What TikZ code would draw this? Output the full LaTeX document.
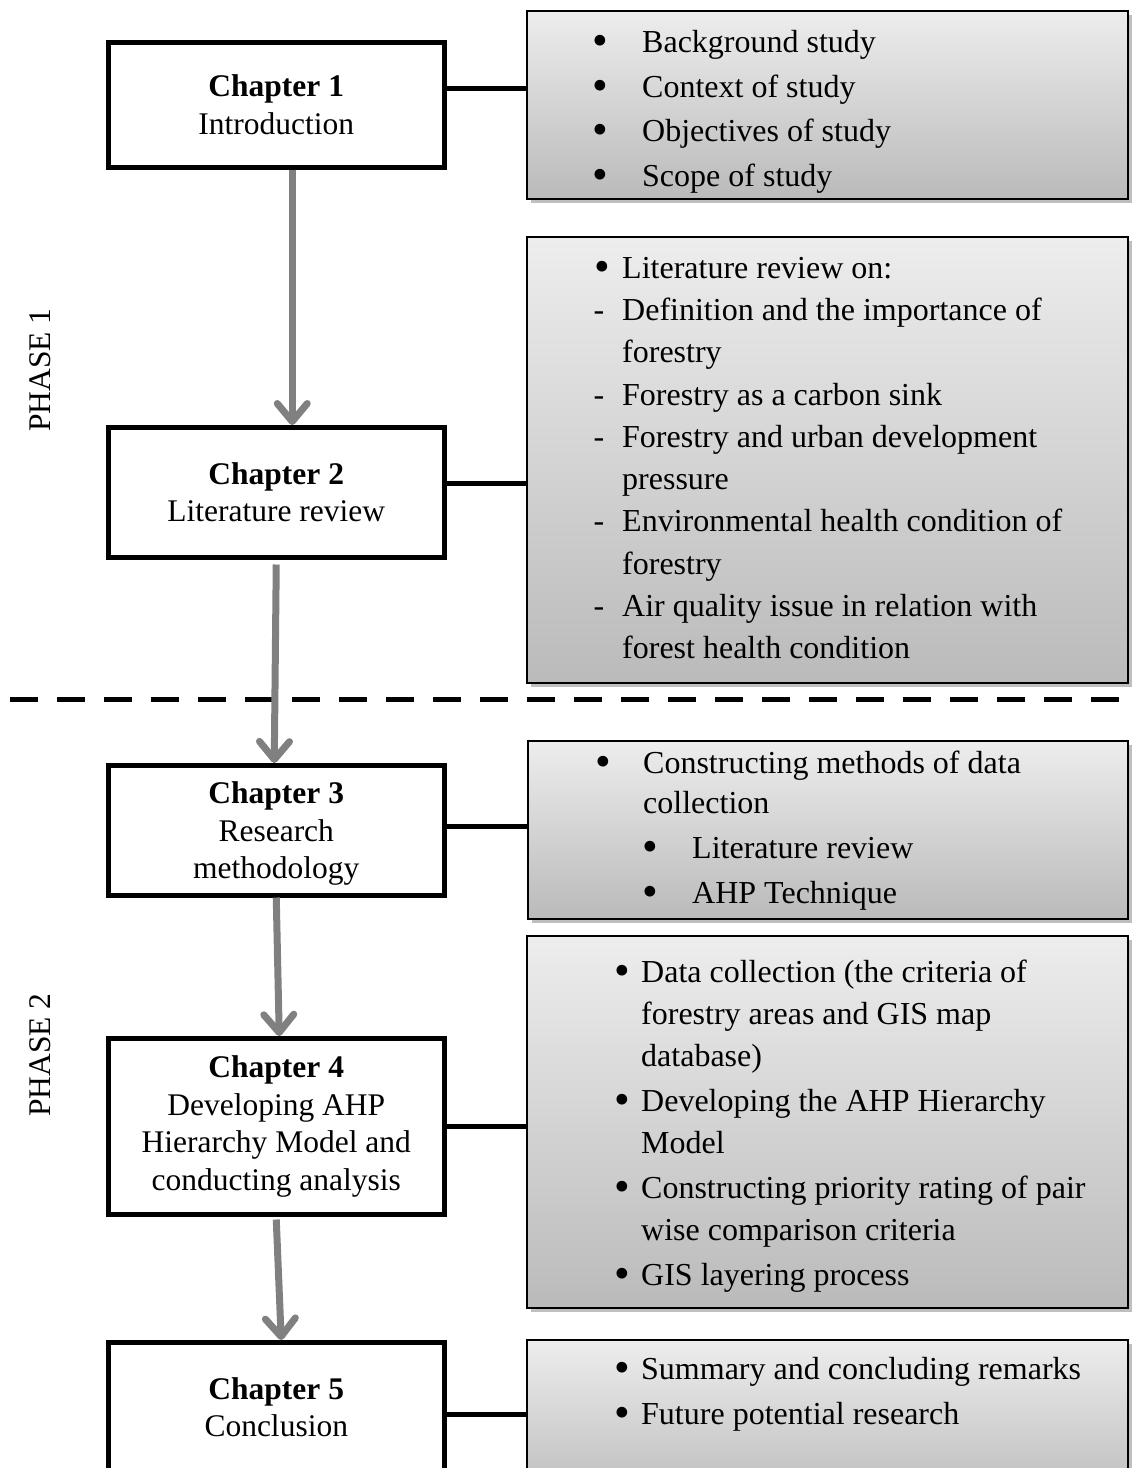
\documentclass[tikz,border=0pt]{standalone}
\usepackage{fontspec}
\setmainfont{Liberation Serif}
\usetikzlibrary{arrows.meta,shadows}
\newcommand{\bigbul}{\raisebox{-3pt}{\scalebox{1.4}{\textbullet}}}
\begin{document}
\begin{tikzpicture}[x=1pt,y=-1pt,
  chapbox/.style={draw=black, line width=4.5pt, fill=white, align=center, inner sep=0pt,
    anchor=north west, minimum width=336pt, font=\fontsize{31.5}{37.5}\selectfont},
  infobox/.style={draw=black, line width=1.5pt, top color=black!7, bottom color=black!27,
    anchor=north west, inner sep=0pt,
    drop shadow={shadow xshift=4pt, shadow yshift=-4pt, fill=black, opacity=0.25}},
  txt/.style={anchor=base west, inner sep=0pt, font=\fontsize{32}{42}\selectfont},
  bul/.style={anchor=base, inner sep=0pt, font=\fontsize{32}{42}\selectfont},
  flow/.style={draw=black!50, line width=7pt,
    -{Straight Barb[length=18pt,width=30pt,round]}},
  link/.style={draw=black, line width=4.5pt},
  sep/.style={draw=black, line width=5pt, dash pattern=on 28pt off 19pt},
  phase/.style={rotate=90, inner sep=0pt, font=\fontsize{31.5}{37.5}\selectfont}
]
\useasboundingbox (0,0) rectangle (1132,1468);

% separator between phases
\coordinate (sepL) at (10,699);
\coordinate (sepR) at (1140,699);
\draw[sep] (sepL) -- (sepR);

% phase labels
\node[phase] (ph1) at (40,370) {PHASE 1};
\node[phase] (ph2) at (40,1055) {PHASE 2};

% chapter boxes
\node[chapbox, minimum height=125pt] (c1) at (106,40) {\textbf{Chapter 1}\\Introduction};
\node[chapbox, minimum height=130pt] (c2) at (106,425) {\textbf{Chapter 2}\\Literature review};
\node[chapbox, minimum height=130pt, text depth=0pt] (c3) at (106,763) {\textbf{Chapter 3}\\Research\\methodology};
\node[chapbox, minimum height=176pt] (c4) at (106,1036) {\textbf{Chapter 4}\\Developing AHP\\Hierarchy Model and\\conducting analysis};
\node[chapbox, minimum height=130pt] (c5) at (106,1340) {\textbf{Chapter 5}\\Conclusion};

% info boxes
\node[infobox, minimum width=601pt, minimum height=188pt] (b1) at (526,10) {};
\node[infobox, minimum width=601pt, minimum height=446pt] (b2) at (526,236) {};
\node[infobox, minimum width=600pt, minimum height=178pt] (b3) at (527,740) {};
\node[infobox, minimum width=601pt, minimum height=372pt] (b4) at (526,935) {};
\node[infobox, minimum width=601pt, minimum height=165pt] (b5) at (526,1339) {};

% box 1 text
\node[bul] (k11) at (600,52) {\bigbul};  \node[txt] (t11) at (642,52) {Background study};
\node[bul] (k12) at (600,97) {\bigbul};  \node[txt] (t12) at (642,97) {Context of study};
\node[bul] (k13) at (600,141) {\bigbul}; \node[txt] (t13) at (642,141) {Objectives of study};
\node[bul] (k14) at (600,186) {\bigbul}; \node[txt] (t14) at (642,186) {Scope of study};

% box 2 text
\node[bul] (k21) at (602,278) {\bigbul}; \node[txt] (t21) at (622,278) {Literature review on:};
\node[bul] (k22) at (599,320) {-}; \node[txt] (t22) at (622,320) {Definition and the importance of};
\node[txt] (t23) at (622,362) {forestry};
\node[bul] (k24) at (599,405) {-}; \node[txt] (t24) at (622,405) {Forestry as a carbon sink};
\node[bul] (k25) at (599,447) {-}; \node[txt] (t25) at (622,447) {Forestry and urban development};
\node[txt] (t26) at (622,489) {pressure};
\node[bul] (k27) at (599,531) {-}; \node[txt] (t27) at (622,531) {Environmental health condition of};
\node[txt] (t28) at (622,574) {forestry};
\node[bul] (k29) at (599,616) {-}; \node[txt] (t29) at (622,616) {Air quality issue in relation with};
\node[txt] (t2a) at (622,658) {forest health condition};

% box 3 text
\node[bul] (k31) at (603,773) {\bigbul}; \node[txt] (t31) at (643,773) {Constructing methods of data};
\node[txt] (t32) at (643,813) {collection};
\node[bul] (k33) at (650,858) {\bigbul}; \node[txt] (t33) at (692,858) {Literature review};
\node[bul] (k34) at (650,903) {\bigbul}; \node[txt] (t34) at (692,903) {AHP Technique};

% box 4 text
\node[bul] (k41) at (622,982) {\bigbul}; \node[txt] (t41) at (641,982) {Data collection (the criteria of};
\node[txt] (t42) at (641,1024) {forestry areas and GIS map};
\node[txt] (t43) at (641,1066) {database)};
\node[bul] (k44) at (622,1111) {\bigbul}; \node[txt] (t44) at (641,1111) {Developing the AHP Hierarchy};
\node[txt] (t45) at (641,1153) {Model};
\node[bul] (k46) at (622,1198) {\bigbul}; \node[txt] (t46) at (641,1198) {Constructing priority rating of pair};
\node[txt] (t47) at (641,1240) {wise comparison criteria};
\node[bul] (k48) at (622,1285) {\bigbul}; \node[txt] (t48) at (641,1285) {GIS layering process};

% box 5 text
\node[bul] (k51) at (622,1379) {\bigbul}; \node[txt] (t51) at (641,1379) {Summary and concluding remarks};
\node[bul] (k52) at (622,1424) {\bigbul}; \node[txt] (t52) at (641,1424) {Future potential research};

% links chapter -> info box
\draw[link] ([yshift=16.5pt]c1.east) -- ([yshift=16.5pt]c1.east -| b1.west);
\draw[link] ([yshift=9pt]c2.east) -- ([yshift=9pt]c2.east -| b2.west);
\draw[link] ([yshift=4pt]c3.east) -- ([yshift=4pt]c3.east -| b3.west);
\draw[link] (c4.east) -- (c4.east -| b4.west);
\draw[link] ([yshift=-7pt]c5.east) -- ([yshift=-7pt]c5.east -| b5.west);

% flow arrows
\draw[flow] ([xshift=16pt]c1.south) -- ([xshift=16pt]c2.north);
\draw[flow] ([yshift=-5pt]c2.south) -- ([xshift=-2pt]c3.north);
\draw[flow] (c3.south) -- ([xshift=3pt]c4.north);
\draw[flow] ([yshift=-3pt]c4.south) -- ([xshift=5pt]c5.north);
\end{tikzpicture}
\end{document}
